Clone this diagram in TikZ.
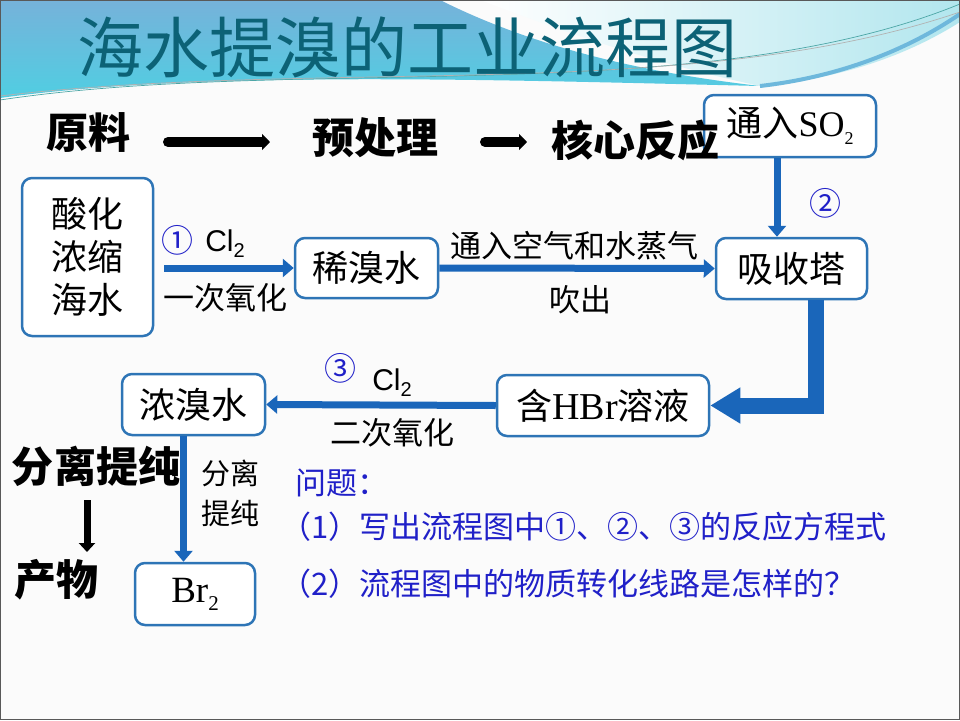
\documentclass[tikz,border=0pt]{standalone}
\usepackage{fontspec}
\setmainfont{Liberation Serif}
\newfontfamily\cjk{Noto Sans CJK SC}
\newfontfamily\arialf{Liberation Sans}
\newfontfamily\tnr{Liberation Serif}
\usetikzlibrary{arrows.meta}
\definecolor{boxblue}{RGB}{46,117,182}
\definecolor{arrblue}{RGB}{26,102,186}
\definecolor{qblue}{RGB}{32,32,200}
\definecolor{titleteal}{RGB}{12,98,118}
\definecolor{bgblue}{RGB}{118,178,218}
\definecolor{bgcyan}{RGB}{80,206,226}
\definecolor{bglight}{RGB}{178,230,238}
\newcommand\mysub[3]{\raisebox{-#2}{\fontsize{#1}{#1}\selectfont #3}}
\tikzset{
  box/.style={draw=boxblue, line width=2.5pt, rounded corners=10pt, fill=white, inner sep=0pt, font=\cjk\fontsize{36}{43}\selectfont, align=center},
  barrow/.style={draw=arrblue, line width=7pt, -{Triangle[length=11pt,width=18pt]}},
  bigarrow/.style={draw=arrblue, line width=16pt, line join=miter, -{Triangle[length=30pt,width=34pt]}},
  karrow/.style={draw=black, line width=10pt, line cap=round, -{Triangle[length=8pt,width=16pt]}},
  lbl/.style={font=\cjk\fontsize{31}{36}\selectfont, inner sep=0pt},
  head/.style={font=\cjk\bfseries\fontsize{42}{48}\selectfont, inner sep=0pt},
  qtext/.style={font=\cjk\fontsize{31}{36}\selectfont, text=qblue, inner sep=0pt, anchor=west},
  circ/.style={font=\cjk\fontsize{32}{36}\selectfont, text=qblue, inner sep=0pt},
  clx/.style={inner sep=0pt, font=\arialf\fontsize{30}{34}\selectfont}
}
\begin{document}
\begin{tikzpicture}[x=1pt,y=-1pt]
\useasboundingbox (0,0) rectangle (960,720);
% background
\fill[white!97!gray] (0,0) rectangle (960,720);
\shade[top color=bgblue, bottom color=bgcyan]
  (0,0) -- (440,0) .. controls (520,40) and (620,70) .. (760,86)
  .. controls (500,80) and (200,70) .. (0,98) -- cycle;
\shade[left color=white, right color=bglight]
  (480,0) -- (960,0) -- (960,22) .. controls (900,60) and (830,80) .. (760,86)
  .. controls (640,60) and (560,30) .. (480,0) -- cycle;
\draw[line width=4pt, color=bgblue!80!bgcyan] (960,14) .. controls (900,55) and (830,78) .. (760,86);
\draw[line width=0.7pt, color=teal!70] (0,100) .. controls (300,55) and (700,110) .. (960,4);
\draw[line width=0.7pt, color=gray!60] (0,96) .. controls (320,58) and (690,104) .. (960,12);
\draw[line width=1.2pt, color=gray!70!black] (0.6,0.6) rectangle (959.4,719.4);
% title
\node[font=\cjk\fontsize{66}{70}\selectfont, text=titleteal, inner sep=0pt] (title) at (407,47) {海水提溴的工业流程图};
% boxes
\node[box, minimum width=131pt, minimum height=158pt] (hai) at (87.5,257) {酸化\\浓缩\\海水};
\node[box, minimum width=143pt, minimum height=60pt] (xi) at (366.5,268) {稀溴水};
\node[box, minimum width=172pt, minimum height=62pt] (so2) at (790,126) {通入{\tnr\fontsize{36}{40}\selectfont SO\mysub{18}{8pt}{2}}};
\node[box, minimum width=151pt, minimum height=61pt] (xs) at (791.5,268.5) {吸收塔};
\node[box, minimum width=212pt, minimum height=61pt] (hbr) at (603,405.5) {含{\tnr\fontsize{38}{40}\selectfont HBr}溶液};
\node[box, minimum width=120pt, minimum height=62pt] (br) at (195,594) {{\tnr\fontsize{37}{40}\selectfont Br\mysub{21}{8pt}{2}}};
\node[box, minimum width=143pt, minimum height=61pt] (nong) at (193.5,404.5) {浓溴水};
% header row
\node[head] (yl) at (88,133) {原料};
\node[head] (ycl) at (375,138) {预处理};
\node[head] (hx) at (635,140) {核心反应};
\coordinate (k1) at (168,142);
\coordinate (k2) at (270,142);
\coordinate (k3) at (485,142);
\coordinate (k4) at (527,142);
\draw[karrow] (k1) -- (k2);
\draw[karrow] (k3) -- (k4);
% connectors
\draw[barrow] ([xshift=10pt]hai.east |- xi.west) -- (xi.west);
\draw[barrow] (xi.east) -- (xs.west);
\draw[barrow] ([xshift=-13pt]so2.south) -- ([xshift=-13pt]so2.south |- xs.north);
\draw[bigarrow] ([xshift=24pt]xs.south) |- (hbr.east);
\draw[barrow] (hbr.west) -- (nong.east);
\draw[barrow] ([xshift=-10pt]nong.south) -- ([xshift=-10pt]nong.south |- br.north);
% connector labels
\node[circ] (c1) at (177,240) {①};
\node[clx] (cl1) at (225,244) {Cl\mysub{20}{6pt}{2}};
\node[lbl] (yc) at (225,298) {一次氧化};
\node[lbl] (tr) at (574,246) {通入空气和水蒸气};
\node[lbl] (cc) at (580,300) {吹出};
\node[circ] (c2) at (825,203) {②};
\node[circ] (c3) at (340,368) {③};
\node[clx] (cl3) at (392,383) {Cl\mysub{20}{6pt}{2}};
\node[lbl] (ec) at (392,433) {二次氧化};
\node[inner sep=0pt, font=\cjk\fontsize{29}{40}\selectfont, align=center] (flts) at (230,493) {分离\\提纯};
% left column
\node[head] (fl) at (96,466) {分离提纯};
\node[head] (cw) at (56,580) {产物};
\coordinate (k5) at (87,500);
\coordinate (k6) at (87,552);
\draw[draw=black, line width=7pt, -{Triangle[length=9pt,width=16pt]}] (k5) -- (k6);
% questions
\node[qtext] (q0) at (295,483) {问题：};
\node[qtext] (q1) at (280,527) {（1）写出流程图中①、②、③的反应方程式};
\node[qtext] (q2) at (280,584) {（2）流程图中的物质转化线路是怎样的？};
\end{tikzpicture}
\end{document}
